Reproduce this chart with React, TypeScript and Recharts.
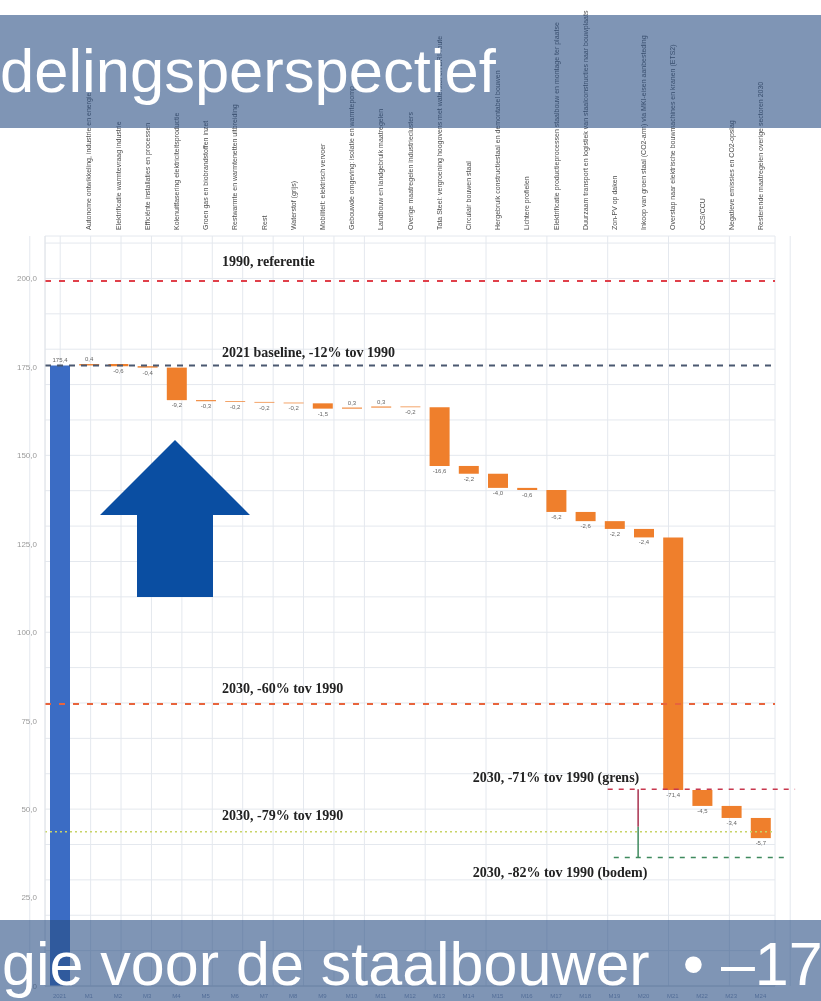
import React from 'react';
import { ComposedChart, Bar, XAxis, YAxis, CartesianGrid, ReferenceLine, LabelList, Cell } from 'recharts';

const categories = [
  '',
  'Autonome ontwikkeling, industrie en energie',
  'Elektrificatie warmtevraag industrie',
  'Efficiënte installaties en processen',
  'Kolenuitfasering elektriciteitsproductie',
  'Groen gas en biobrandstoffen inzet',
  'Restwarmte en warmtenetten uitbreiding',
  'Rest',
  'Waterstof (grijs)',
  'Mobiliteit: elektrisch vervoer',
  'Gebouwde omgeving: isolatie en warmtepomp',
  'Landbouw en landgebruik maatregelen',
  'Overige maatregelen industrieclusters',
  'Tata Steel: vergroening hoogovens met waterstof en DRI-route',
  'Circulair bouwen staal',
  'Hergebruik constructiestaal en demontabel bouwen',
  'Lichtere profielen',
  'Elektrificatie productieprocessen staalbouw en montage ter plaatse',
  'Duurzaam transport en logistiek van staalconstructies naar bouwplaats',
  'Zon-PV op daken',
  'Inkoop van groen staal (CO2-arm) via MKI-eisen aanbesteding',
  'Overstap naar elektrische bouwmachines en kranen (ETS2)',
  'CCS/CCU',
  'Negatieve emissies en CO2-opslag',
  'Resterende maatregelen overige sectoren 2030',
];

const codes = ['2021', 'M1', 'M2', 'M3', 'M4', 'M5', 'M6', 'M7', 'M8', 'M9', 'M10', 'M11', 'M12',
  'M13', 'M14', 'M15', 'M16', 'M17', 'M18', 'M19', 'M20', 'M21', 'M22', 'M23', 'M24'];

// first value = 2021 total, the rest are waterfall steps
const steps = [175.4, 0.4, -0.6, -0.4, -9.2, -0.3, -0.2, -0.2, -0.2, -1.5, 0.3, 0.3, -0.2,
  -16.6, -2.2, -4.0, -0.6, -6.2, -2.6, -2.2, -2.4, -71.4, -4.5, -3.4, -5.7];

const yTicks = [0, 25, 50, 75, 100, 125, 150, 175, 200];
const gridTicks = Array.from({ length: 43 }, (_, i) => i * 5);
const bandTicks = Array.from({ length: 26 }, (_, i) => i - 0.5);

const refValues = [199.3, 175.4, 79.7, 55.6, 43.6, 36.3];
const refLabels = [
  '1990, referentie',
  '2021 baseline, -12% tov 1990',
  '2030, -60% tov 1990',
  '2030, -71% tov 1990 (grens)',
  '2030, -79% tov 1990',
  '2030, -82% tov 1990 (bodem)',
];

let level = 0;
const data = categories.map((name, i) => {
  const d = steps[i];
  let range: number[];
  if (i === 0) {
    range = [0, d];
    level = d;
  } else {
    const next = level + d;
    range = [Math.min(level, next), Math.max(level, next)];
    level = next;
  }
  return { name, code: codes[i], range, delta: d, idx: i };
});

const fmt = (v: number) => v.toFixed(1).replace('.', ',');

const TopTick = (props: any) => {
  const { x, y, payload } = props;
  return (
    <text
      x={x}
      y={y + 2}
      dy={2.5}
      transform={`rotate(-90, ${x}, ${y + 2})`}
      textAnchor="start"
      fontSize={7}
      fontFamily="Liberation Sans, Arial, sans-serif"
      fill="#4d4d4d"
    >
      {payload.value}
    </text>
  );
};

const BarLabel = (props: any) => {
  const { x, y, width, height, value, index } = props;
  const top = Math.min(y, y + height);
  const bottom = Math.max(y, y + height);
  const cx = x + width / 2;
  const up = index === 0 || value > 0;
  return (
    <text
      x={cx}
      y={up ? top - 3 : bottom + 7}
      textAnchor="middle"
      fontSize={6}
      fontFamily="Liberation Sans, Arial, sans-serif"
      fill="#666"
    >
      {fmt(value)}
    </text>
  );
};

const refLabel = (text: string, dx: number, dy: number) => (props: any) => {
  const vb = props.viewBox || {};
  return (
    <text
      x={(vb.x || 0) + dx}
      y={(vb.y || 0) + dy}
      fontSize={14}
      fontWeight={700}
      fontFamily="Liberation Serif, Times New Roman, serif"
      fill="#222"
    >
      {text}
    </text>
  );
};

export default function App() {
  return (
    <div style={{ position: 'absolute', left: 0, top: 0, width: 821, height: 1001, overflow: 'hidden', background: '#fff' }}>
      <div style={{ position: 'absolute', left: 0, top: 0, filter: 'blur(0.6px)' }}>
        <ComposedChart width={821} height={1001} data={data} margin={{ top: 0, right: 46, bottom: 0, left: 0 }}>
          <CartesianGrid xAxisId="num" yAxisId="grid" stroke="#e4e8ee" strokeWidth={1} />
          <XAxis
            dataKey="name"
            orientation="top"
            height={236}
            interval={0}
            axisLine={false}
            tickLine={false}
            tick={<TopTick />}
          />
          <XAxis
            xAxisId="bottom"
            dataKey="code"
            orientation="bottom"
            height={15}
            interval={0}
            axisLine={{ stroke: '#d0d4da' }}
            tickLine={false}
            tick={{ fontSize: 6, fill: '#8f9bb5', fontFamily: 'Liberation Sans, Arial, sans-serif' }}
          />
          <XAxis xAxisId="num" type="number" domain={[-0.5, 24.5]} ticks={bandTicks} hide allowDataOverflow />
          <YAxis
            domain={[0, 212]}
            ticks={yTicks}
            width={45}
            axisLine={{ stroke: '#e2e5ea' }}
            tickLine={false}
            tick={{ fontSize: 8, fill: '#9a9a9a', fontFamily: 'Liberation Sans, Arial, sans-serif' }}
            tickFormatter={(v: number) => `${v},0`}
          />
          <YAxis yAxisId="grid" domain={[0, 212]} ticks={gridTicks} hide allowDataOverflow />

          <ReferenceLine y={refValues[0]} stroke="#e0404a" strokeWidth={2} strokeDasharray="6 8" label={refLabel(refLabels[0], 177, -15)} />
          <ReferenceLine y={refValues[1]} stroke="#4a5870" strokeWidth={1.8} strokeDasharray="6 6" label={refLabel(refLabels[1], 177, -8)} />
          <ReferenceLine y={refValues[2]} stroke="#e8643c" strokeWidth={2} strokeDasharray="6 8" label={refLabel(refLabels[2], 177, -11)} />
          <ReferenceLine y={refValues[4]} stroke="#c8d468" strokeWidth={1.5} strokeDasharray="2 3" label={refLabel(refLabels[4], 177, -12)} />
          <ReferenceLine
            xAxisId="num"
            segment={[{ x: 18.5, y: refValues[3] }, { x: 24.66, y: refValues[3] }]}
            ifOverflow="visible"
            stroke="#c8384e"
            strokeWidth={1.5}
            strokeDasharray="5 6"
            label={refLabel(refLabels[3], -135, -7)}
          />
          <ReferenceLine
            xAxisId="num"
            segment={[{ x: 18.7, y: refValues[5] }, { x: 24.4, y: refValues[5] }]}
            ifOverflow="visible"
            stroke="#3f8a5e"
            strokeWidth={1.5}
            strokeDasharray="5 6"
            label={refLabel(refLabels[5], -141, 19)}
          />
          <ReferenceLine
            xAxisId="num"
            segment={[{ x: 19.5, y: refValues[3] }, { x: 19.5, y: 45 }]}
            stroke="#a8304e"
            strokeWidth={1.5}
          />
          <ReferenceLine
            xAxisId="num"
            segment={[{ x: 19.5, y: 45 }, { x: 19.5, y: refValues[5] }]}
            stroke="#3f8a5e"
            strokeWidth={1.5}
          />

          <Bar dataKey="range" barSize={20} isAnimationActive={false}>
            {data.map((d) => (
              <Cell key={d.idx} fill={d.idx === 0 ? '#3b6cc4' : '#ef7f2c'} />
            ))}
            <LabelList dataKey="delta" content={<BarLabel />} />
          </Bar>
        </ComposedChart>
      </div>

      <svg width={821} height={1001} style={{ position: 'absolute', left: 0, top: 0, pointerEvents: 'none' }}>
        <rect x={0} y={15} width={821} height={113} fill="rgba(42,78,132,0.6)" />
        <text x={0} y={92} fontSize={61.5} fontFamily="Liberation Sans, Arial, sans-serif" fill="#ffffff">
          delingsperspectief
        </text>
        <rect x={0} y={920} width={821} height={81} fill="rgba(42,78,132,0.6)" />
        <text x={2} y={985} fontSize={61} fontFamily="Liberation Sans, Arial, sans-serif" fill="#ffffff">
          gie voor de staalbouwer<tspan dx={16}> • –17</tspan>
        </text>
        <polygon
          points="175,440 250,515 213,515 213,597 137,597 137,515 100,515"
          fill="#0a4ea2"
        />
      </svg>
    </div>
  );
}
